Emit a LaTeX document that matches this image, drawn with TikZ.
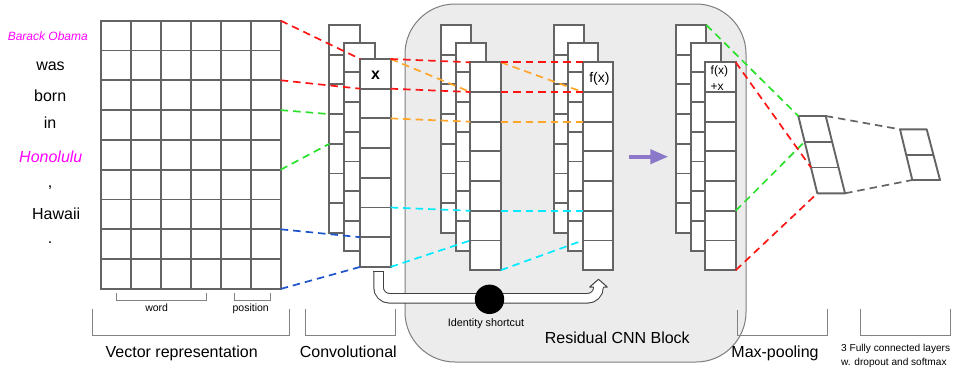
\documentclass[tikz,border=0pt]{standalone}
\usepackage{fontspec}
\setmainfont{Liberation Sans}
\usetikzlibrary{arrows.meta,calc}
\definecolor{cellline}{RGB}{100,100,100}
\definecolor{brk}{RGB}{130,130,130}
\definecolor{blockfill}{RGB}{236,236,236}
\definecolor{blockline}{RGB}{125,125,125}
\definecolor{cred}{RGB}{255,20,20}
\definecolor{cgreen}{RGB}{40,225,40}
\definecolor{corange}{RGB}{255,165,40}
\definecolor{ccyan}{RGB}{0,235,255}
\definecolor{cblue}{RGB}{30,85,205}
\definecolor{cgray}{RGB}{100,100,100}
\definecolor{cpurple}{RGB}{140,120,200}
\definecolor{mag}{RGB}{255,0,255}
\newcommand{\cnnlayer}[3]{%
  \foreach \i in {1,...,7}{%
    \node[cellbox] (#1-\i) at (#2,{#3+(\i-1)*29.7}) {};
  }%
}
\begin{document}
\begin{tikzpicture}[x=1pt,y=-1pt,
  cellbox/.style={draw=cellline,fill=white,line width=1.9pt,minimum width=30.4pt,minimum height=29.7pt,inner sep=0pt,outer sep=0pt,anchor=north west},
  gridcell/.style={draw=cellline,fill=white,line width=1.9pt,minimum width=30pt,minimum height=29.8pt,inner sep=0pt,outer sep=0pt,anchor=north west},
  conn/.style={dash pattern=on 7.5pt off 5pt,line width=1.7pt},
  bracket/.style={draw=brk,line width=1pt},
  shapeline/.style={draw=cellline,line width=1.9pt,line join=round},
  big/.style={font=\fontsize{16}{19}\selectfont,inner sep=0pt,anchor=base},
  small/.style={font=\fontsize{10.5}{13}\selectfont,inner sep=0pt,anchor=base},
]
\useasboundingbox (0,0) rectangle (957,370);

% residual block background
\node[draw=blockline,fill=blockfill,line width=1pt,rounded corners=50pt,minimum width=341pt,minimum height=358pt,inner sep=0pt,anchor=north west] (block) at (404.5,3.5) {};

% input grid
\foreach \r in {1,...,9}{\foreach \c in {1,...,6}{%
  \node[gridcell] (g-\r-\c) at ({100.7+(\c-1)*30},{20.7+(\r-1)*29.8}) {};
}}

% words
\node[big,font=\fontsize{12}{14}\selectfont\itshape,text=mag] (w1) at (47.8,40) {Barack Obama};
\node[big] (w2) at (50.5,70) {was};
\node[big] (w3) at (50.2,101.7) {born};
\node[big] (w4) at (50,128.3) {in};
\node[big,font=\fontsize{16}{19}\selectfont\itshape,text=mag] (w5) at (50.8,162.7) {Honolulu};
\node[big] (w6) at (50,187) {,};
\node[big] (w7) at (56.2,219) {Hawaii};
\node[big] (w8) at (50,243) {.};

% convolutional stack
\cnnlayer{cv1}{329.3}{25}
\cnnlayer{cv2}{344.3}{42.7}
\cnnlayer{cv3}{360.3}{59}
\node[font=\fontsize{16}{19}\selectfont\bfseries,inner sep=0pt] (xlab) at ($(cv3-1.center)+(0,1.5)$) {x};

% residual stack 1
\cnnlayer{r1a}{440.7}{25}
\cnnlayer{r1b}{455.7}{42.7}
\cnnlayer{r1c}{470.3}{62.3}

% residual stack 2
\cnnlayer{r2a}{553.7}{25}
\cnnlayer{r2b}{567.7}{42.7}
\cnnlayer{r2c}{582.7}{62.3}
\node[font=\fontsize{14}{16}\selectfont,inner sep=0pt] (fx) at ($(r2c-1.center)+(1.5,1.5)$) {f(x)};

% output stack
\cnnlayer{o1}{676}{25}
\cnnlayer{o2}{690.7}{42.7}
\cnnlayer{o3}{705.3}{62.3}
\node[font=\fontsize{12}{14}\selectfont,inner sep=0pt,anchor=base west] (fx2) at (710.5,74.8) {f(x)};
\node[font=\fontsize{12}{14}\selectfont,inner sep=0pt,anchor=base west] (px) at (710.5,90.3) {+x};

% purple arrow
\coordinate (pa) at (629,156.7);
\coordinate (pb) at (668.3,156.7);
\draw[line width=4pt,cpurple,-{Triangle[length=18pt,width=14pt]}] (pa) -- (pb);

% max pooling and fully connected
\coordinate (mp-tl) at (798.3,116);
\coordinate (mp-tr) at (825.7,116);
\coordinate (mp-bl) at (817.3,193.3);
\coordinate (mp-br) at (845,193.3);
\coordinate (mp-l1) at ($(mp-tl)!1/3!(mp-bl)$);
\coordinate (mp-l2) at ($(mp-tl)!2/3!(mp-bl)$);
\coordinate (mp-r1) at ($(mp-tr)!1/3!(mp-br)$);
\coordinate (mp-r2) at ($(mp-tr)!2/3!(mp-br)$);
\draw[shapeline] (mp-tl) -- (mp-tr) -- (mp-br) -- (mp-bl) -- cycle;
\draw[shapeline] (mp-l1) -- (mp-r1) (mp-l2) -- (mp-r2);
\coordinate (fc-tl) at (900,129.3);
\coordinate (fc-tr) at (926.7,129.3);
\coordinate (fc-bl) at (912.3,180);
\coordinate (fc-br) at (940,180);
\draw[shapeline] (fc-tl) -- (fc-tr) -- (fc-br) -- (fc-bl) -- cycle;
\draw[shapeline] ($(fc-tl)!0.5!(fc-bl)$) -- ($(fc-tr)!0.5!(fc-br)$);

% brackets
\draw[bracket] (116.7,292.7) |- (206.7,300) -- (206.7,292.7);
\draw[bracket] (234,292.7) |- (270.7,300) -- (270.7,292.7);
\draw[bracket] (92.7,309.3) |- (289.3,335) -- (289.3,309.3);
\draw[bracket] (305,309.3) |- (395.7,335) -- (395.7,309.3);
\draw[bracket] (737.3,310) |- (827.3,335) -- (827.3,309.3);
\draw[bracket] (860,309.3) |- (950,335) -- (950,309.3);

% labels
\node[small] (lw) at (156.7,311.7) {word};
\node[small] (lp) at (250.7,311.7) {position};
\node[big] (lvec) at (181.7,357.3) {Vector representation};
\node[big] (lconv) at (348.3,357.3) {Convolutional};
\node[big] (lres) at (617.3,343.3) {Residual CNN Block};
\node[big] (lmax) at (775,357.3) {Max-pooling};
\node[font=\fontsize{10.1}{14}\selectfont,inner sep=0pt,anchor=base west] (lfc1) at (841,351.7) {3 Fully connected layers};
\node[font=\fontsize{10.1}{14}\selectfont,inner sep=0pt,anchor=base west] (lfc2) at (841,365.5) {w. dropout and softmax};

% connectors: grid -> conv
\draw[conn,cred] (g-1-6.north east) -- (cv3-1.north west);
\draw[conn,cred] (g-3-6.north east) -- (cv3-2.north west);
\draw[conn,cgreen] (g-4-6.north east) -- (cv1-4.north west);
\draw[conn,cgreen] (g-6-6.north east) -- (cv1-5.north west);
\draw[conn,cblue] (g-8-6.north east) -- (cv3-7.north west);
\draw[conn,cblue] (g-9-6.south east) -- (cv3-7.south west);

% conv -> res1
\draw[conn,corange] (cv3-1.north east) -- (r1c-2.north west);
\draw[conn,corange] (cv3-3.north east) -- (r1c-3.north west);
\draw[conn,cred] (cv3-1.north east) -- (r1c-1.north west);
\draw[conn,cred] (cv3-2.north east) -- (r1c-2.north west);
\draw[conn,ccyan] (cv3-6.north east) -- (r1c-6.north west);
\draw[conn,ccyan] (cv3-7.south east) -- (r1c-7.north west);

% res1 -> res2
\draw[conn,corange] (r1c-1.north east) -- (r2c-2.north west);
\draw[conn,corange] (r1c-3.north east) -- (r2c-3.north west);
\draw[conn,cred] (r1c-1.north east) -- (r2c-1.north west);
\draw[conn,cred] (r1c-2.north east) -- (r2c-2.north west);
\draw[conn,ccyan] (r1c-6.north east) -- (r2c-6.north west);
\draw[conn,ccyan] (r1c-7.south east) -- (r2c-7.north west);

% out -> max pool
\draw[conn,cgreen] (o1-1.north east) -- (mp-tl);
\draw[conn,cgreen] (o3-6.north east) -- (mp-l1);
\draw[conn,cred] (o3-1.north east) -- (mp-l2);
\draw[conn,cred] (o3-7.south east) -- (mp-bl);

% max pool -> fc
\draw[conn,cgray] (mp-tr) -- (fc-tl);
\draw[conn,cgray] (mp-br) -- (fc-bl);

% identity shortcut tube
\coordinate (ts) at (378.5,271);
\coordinate (te) at (598.5,287);
\draw[draw=black!75,line width=1pt,double=white,double distance=8.5pt,rounded corners=11pt] (ts) |- (te |- 0,298.3) -- (te);
\draw[black!75,line width=1pt] (373.25,271) -- (383.75,271);
\fill[white] (589.7,287) -- (598.5,279.3) -- (607.3,287) -- cycle;
\draw[black!75,line width=1pt,line join=round] (603.25,287) -- (607.3,287) -- (598.5,279.3) -- (589.7,287) -- (593.75,287);
\node[circle,fill=black,minimum size=29.4pt,inner sep=0pt] (idc) at (489.5,299.3) {};
\node[font=\fontsize{10.8}{13}\selectfont,inner sep=0pt,anchor=base] (lid) at (486,326) {Identity shortcut};
\end{tikzpicture}
\end{document}
